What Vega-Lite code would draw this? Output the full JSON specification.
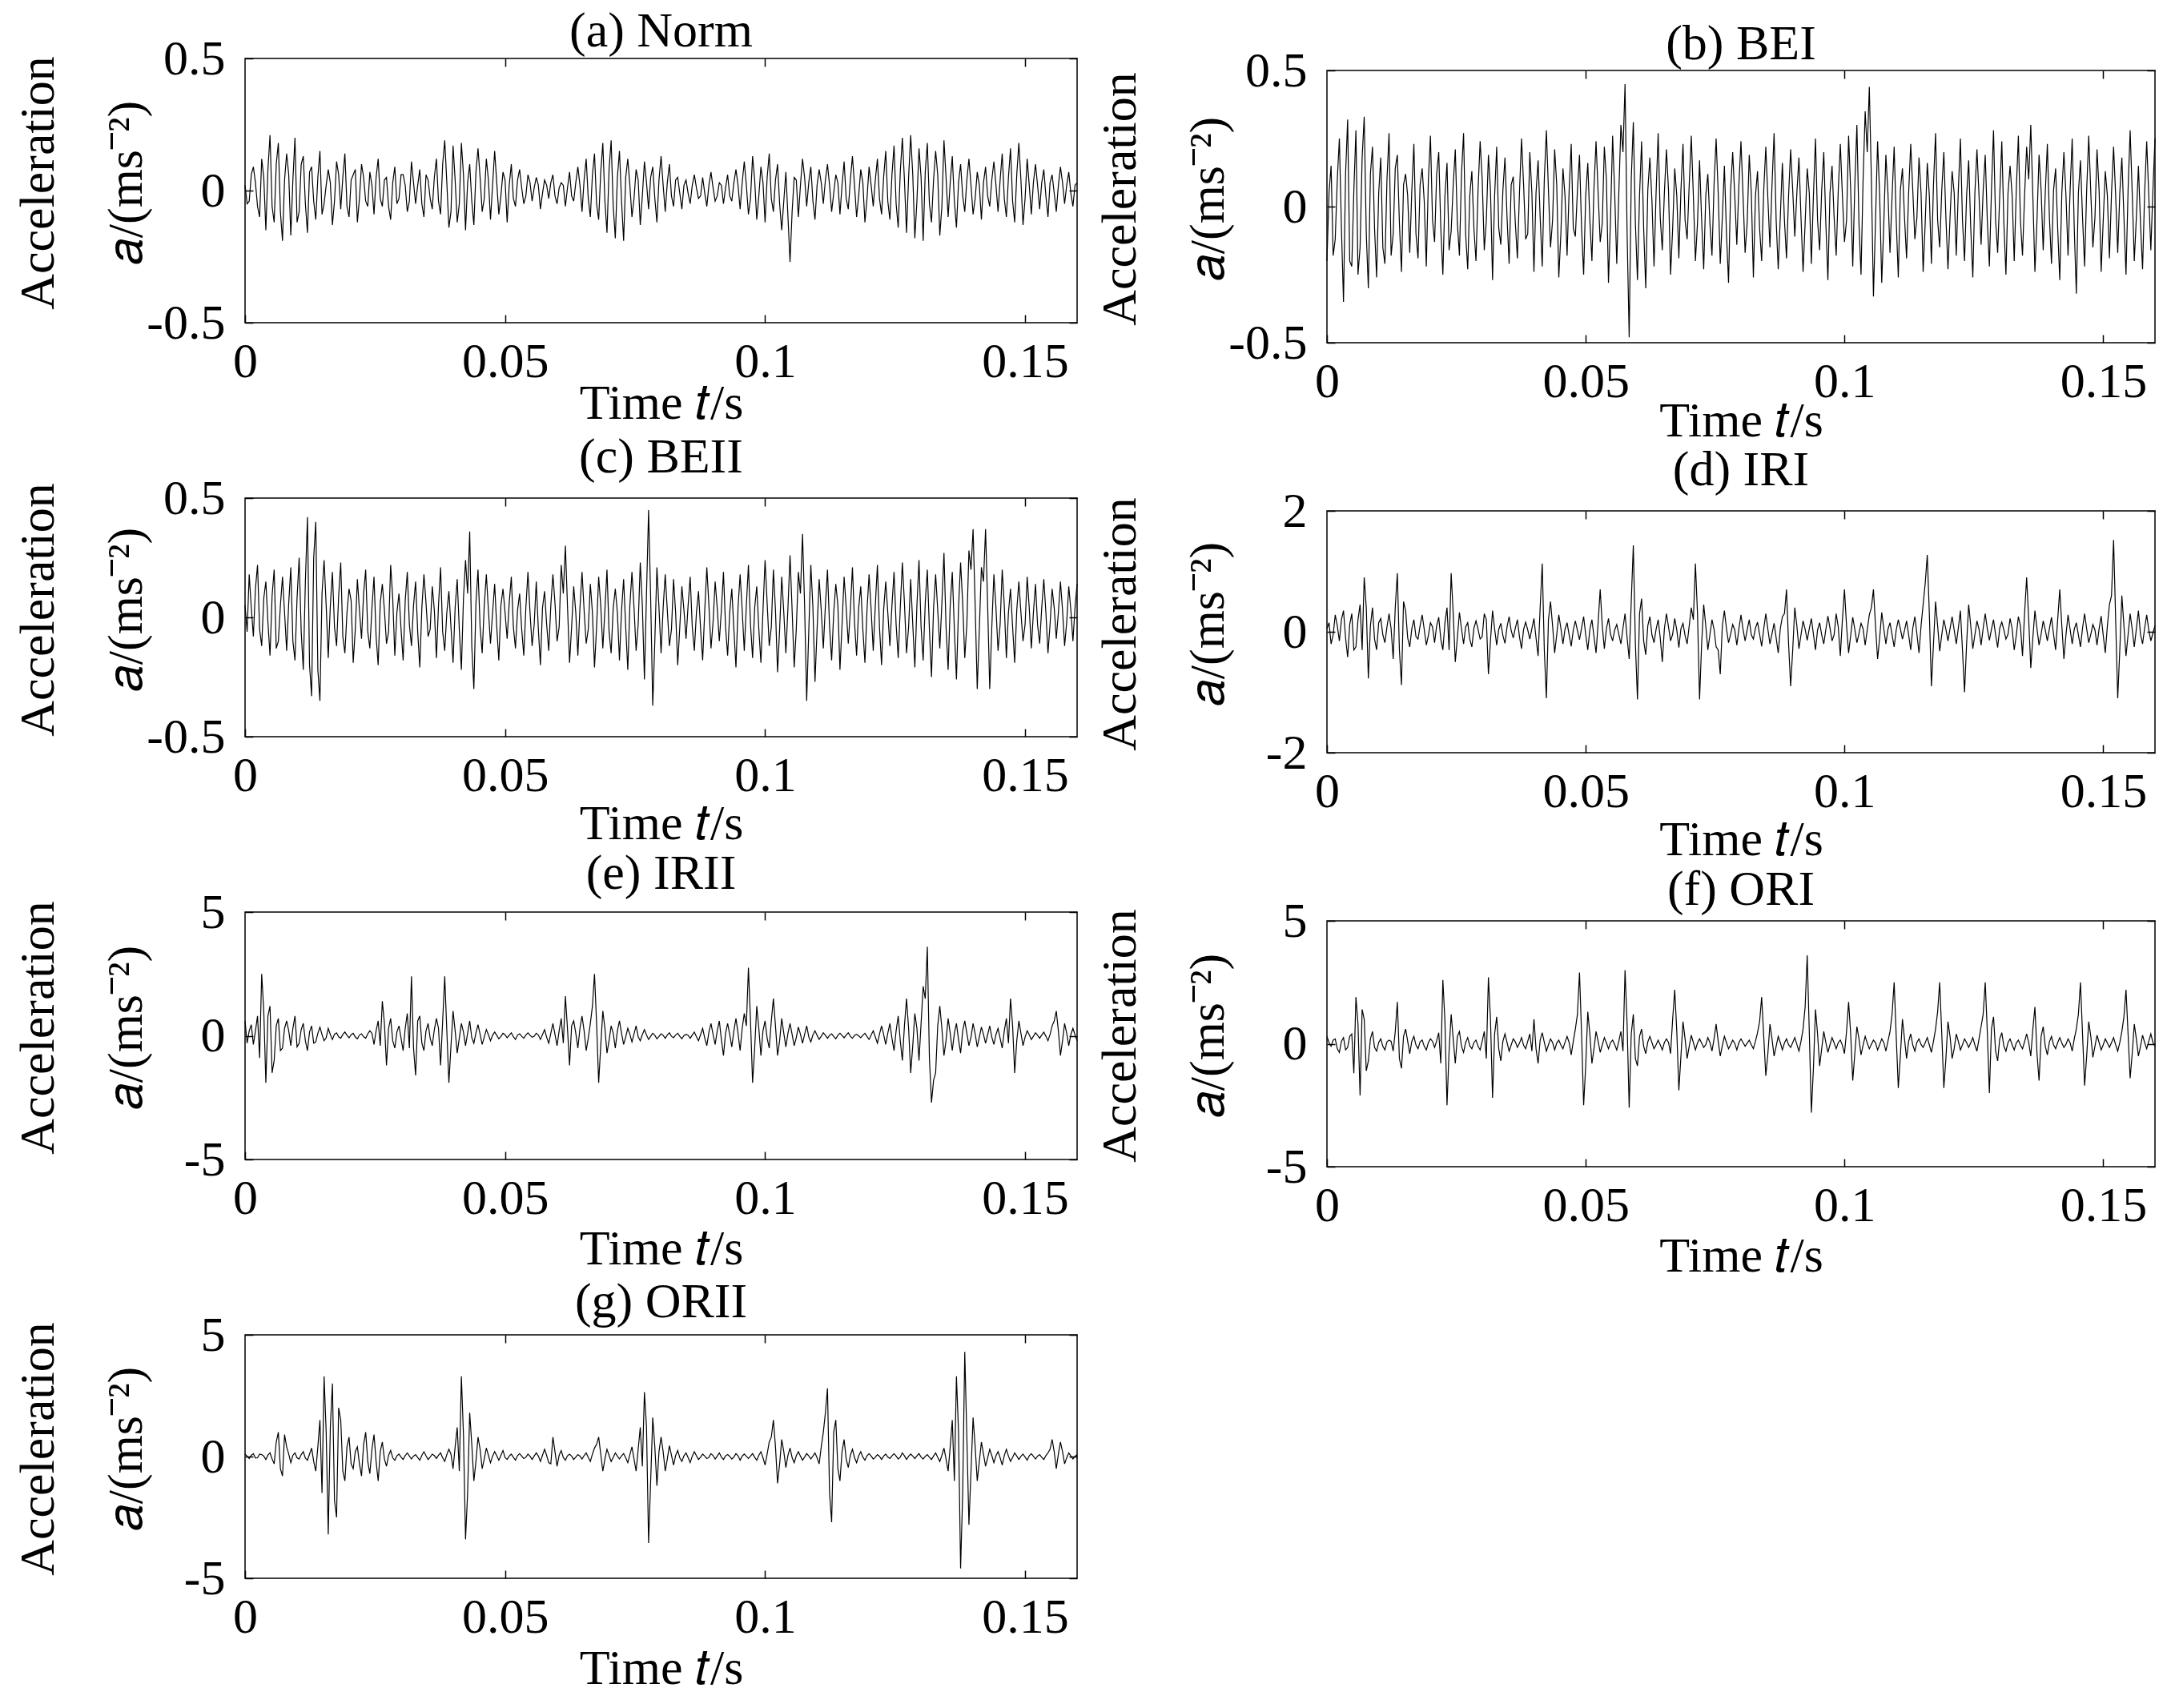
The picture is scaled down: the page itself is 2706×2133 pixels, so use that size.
{
  "$schema": "https://vega.github.io/schema/vega-lite/v6.json",
  "background": "white",
  "padding": {"left": 15, "top": 7, "right": 0, "bottom": 0},
  "data": {
    "values": [
      {"t":0,"a":0.02,"b":-0.2,"c":0.05,"d":0.05,"e":0.6,"f":0.3,"g":0.1},
      {"t":0.0008,"a":-0.04,"b":0.15,"c":0.18,"d":-0.2,"e":0.2,"f":-0.1,"g":-0.08},
      {"t":0.0016,"a":0.09,"b":-0.12,"c":-0.08,"d":0.28,"e":-0.35,"f":0.2,"g":0.12},
      {"t":0.0024,"a":-0.06,"b":0.25,"c":0.22,"d":-0.15,"e":0.8,"f":-0.35,"g":-0.05},
      {"t":0.0032,"a":0.12,"b":-0.35,"c":-0.12,"d":0.35,"e":2.5,"f":0.25,"g":0.08},
      {"t":0.004,"a":-0.15,"b":0.32,"c":0.15,"d":-0.42,"e":-1.9,"f":-0.15,"g":-0.12},
      {"t":0.0048,"a":0.21,"b":-0.22,"c":-0.16,"d":0.3,"e":1.2,"f":0.4,"g":0.15},
      {"t":0.0056,"a":-0.12,"b":0.28,"c":0.2,"d":-0.25,"e":-1,"f":1.9,"g":-0.3},
      {"t":0.0064,"a":0.18,"b":-0.15,"c":-0.1,"d":0.45,"e":0.7,"f":-2.1,"g":1},
      {"t":0.0072,"a":-0.19,"b":0.33,"c":0.17,"d":0.9,"e":-0.5,"f":1,"g":-0.8},
      {"t":0.008,"a":0.14,"b":-0.3,"c":-0.14,"d":-0.77,"e":0.6,"f":-0.7,"g":0.4},
      {"t":0.0088,"a":-0.17,"b":0.22,"c":0.21,"d":0.4,"e":-0.4,"f":0.5,"g":-0.25},
      {"t":0.0096,"a":0.2,"b":-0.26,"c":-0.18,"d":-0.3,"e":0.8,"f":-0.3,"g":0.15},
      {"t":0.0104,"a":-0.08,"b":0.18,"c":0.25,"d":0.22,"e":-0.3,"f":0.2,"g":-0.1},
      {"t":0.0112,"a":0.13,"b":-0.21,"c":-0.22,"d":-0.18,"e":0.5,"f":-0.25,"g":0.2},
      {"t":0.012,"a":-0.16,"b":0.27,"c":0.42,"d":0.3,"e":-0.6,"f":0.15,"g":-0.15},
      {"t":0.0128,"a":0.09,"b":-0.1,"c":-0.33,"d":-0.45,"e":0.4,"f":-0.3,"g":0.35},
      {"t":0.0136,"a":-0.11,"b":0.19,"c":0.4,"d":0.97,"e":-0.25,"f":1.7,"g":-0.6},
      {"t":0.0144,"a":0.15,"b":-0.24,"c":-0.35,"d":-0.88,"e":0.35,"f":-1,"g":1.5},
      {"t":0.0152,"a":-0.05,"b":0.12,"c":0.24,"d":0.35,"e":-0.2,"f":0.6,"g":3.3},
      {"t":0.016,"a":0.08,"b":-0.17,"c":-0.17,"d":-0.25,"e":0.3,"f":-0.4,"g":-3.2},
      {"t":0.0168,"a":-0.13,"b":0.23,"c":0.19,"d":0.2,"e":-0.15,"f":0.3,"g":3},
      {"t":0.0176,"a":0.11,"b":-0.19,"c":-0.12,"d":-0.12,"e":0.12,"f":-0.2,"g":-2.5},
      {"t":0.0184,"a":-0.07,"b":0.14,"c":0.23,"d":0.28,"e":-0.1,"f":0.15,"g":1.5},
      {"t":0.0192,"a":0.14,"b":-0.22,"c":-0.15,"d":-0.22,"e":0.15,"f":-0.25,"g":-1},
      {"t":0.02,"a":-0.1,"b":0.26,"c":0.12,"d":0.15,"e":-0.08,"f":0.2,"g":0.8},
      {"t":0.0208,"a":0.06,"b":-0.13,"c":-0.19,"d":-0.18,"e":0.1,"f":-0.15,"g":-0.5},
      {"t":0.0216,"a":-0.12,"b":0.2,"c":0.16,"d":0.24,"e":-0.12,"f":0.45,"g":0.4},
      {"t":0.0224,"a":0.1,"b":-0.25,"c":-0.09,"d":-0.3,"e":0.08,"f":2.6,"g":-0.8},
      {"t":0.0232,"a":-0.04,"b":0.16,"c":0.2,"d":0.4,"e":-0.1,"f":-2.5,"g":1},
      {"t":0.024,"a":0.07,"b":-0.09,"c":-0.13,"d":0.97,"e":0.2,"f":1.2,"g":-0.7},
      {"t":0.0248,"a":-0.09,"b":0.21,"c":0.17,"d":-0.5,"e":-0.35,"f":-0.8,"g":0.9},
      {"t":0.0256,"a":0.12,"b":-0.18,"c":-0.2,"d":0.32,"e":0.6,"f":0.5,"g":-1},
      {"t":0.0264,"a":-0.06,"b":0.27,"c":0.14,"d":-0.2,"e":1.4,"f":-0.35,"g":0.6},
      {"t":0.0272,"a":0.05,"b":-0.23,"c":-0.11,"d":0.15,"e":-1.2,"f":0.25,"g":-0.4},
      {"t":0.028,"a":-0.11,"b":0.13,"c":0.22,"d":-0.25,"e":0.7,"f":-0.2,"g":0.25},
      {"t":0.0288,"a":0.09,"b":-0.2,"c":-0.16,"d":0.18,"e":-0.5,"f":0.15,"g":-0.15},
      {"t":0.0296,"a":-0.03,"b":0.24,"c":0.1,"d":-0.12,"e":0.4,"f":-0.25,"g":0.1},
      {"t":0.0304,"a":0.06,"b":-0.16,"c":-0.18,"d":0.3,"e":-0.6,"f":0.5,"g":-0.12},
      {"t":0.0312,"a":-0.08,"b":0.19,"c":0.19,"d":-0.7,"e":0.9,"f":2.7,"g":0.15},
      {"t":0.032,"a":0.11,"b":-0.27,"c":-0.12,"d":0.35,"e":2.4,"f":-2.2,"g":-0.1},
      {"t":0.0328,"a":-0.05,"b":0.22,"c":0.15,"d":-0.22,"e":-1.6,"f":1.1,"g":0.08},
      {"t":0.0336,"a":0.08,"b":-0.14,"c":-0.21,"d":0.14,"e":0.8,"f":-0.7,"g":-0.15},
      {"t":0.0344,"a":-0.1,"b":0.18,"c":0.18,"d":-0.19,"e":-0.6,"f":0.4,"g":0.2},
      {"t":0.0352,"a":0.04,"b":-0.21,"c":-0.08,"d":0.25,"e":0.5,"f":-0.3,"g":-0.12},
      {"t":0.036,"a":-0.07,"b":0.11,"c":0.13,"d":-0.1,"e":-0.4,"f":0.2,"g":0.1},
      {"t":0.0368,"a":0.12,"b":-0.19,"c":-0.17,"d":0.2,"e":0.7,"f":-0.15,"g":-0.08},
      {"t":0.0376,"a":-0.09,"b":0.25,"c":0.21,"d":-0.28,"e":-1.2,"f":0.25,"g":0.15},
      {"t":0.0384,"a":0.19,"b":-0.12,"c":-0.14,"d":0.16,"e":2.4,"f":-0.2,"g":-0.2},
      {"t":0.0392,"a":-0.14,"b":0.2,"c":0.11,"d":-0.12,"e":-1.9,"f":0.4,"g":0.3},
      {"t":0.04,"a":0.17,"b":-0.24,"c":-0.19,"d":0.22,"e":1,"f":1,"g":-0.5},
      {"t":0.0408,"a":-0.12,"b":0.17,"c":0.16,"d":-0.4,"e":-0.7,"f":-0.8,"g":1.2},
      {"t":0.0416,"a":0.18,"b":-0.22,"c":-0.22,"d":1.13,"e":0.5,"f":0.45,"g":3.3},
      {"t":0.0424,"a":-0.15,"b":0.28,"c":0.24,"d":-1.1,"e":-0.4,"f":-0.3,"g":-3.4},
      {"t":0.0432,"a":0.1,"b":-0.15,"c":0.36,"d":0.5,"e":0.6,"f":0.2,"g":1.8},
      {"t":0.044,"a":-0.13,"b":0.21,"c":-0.3,"d":-0.35,"e":-0.3,"f":-0.25,"g":-1},
      {"t":0.0448,"a":0.16,"b":-0.26,"c":0.2,"d":0.28,"e":0.45,"f":0.15,"g":0.8},
      {"t":0.0456,"a":-0.08,"b":0.14,"c":-0.15,"d":-0.2,"e":-0.35,"f":-0.2,"g":-0.5},
      {"t":0.0464,"a":0.12,"b":-0.18,"c":0.18,"d":0.15,"e":0.25,"f":0.3,"g":0.35},
      {"t":0.0472,"a":-0.11,"b":0.23,"c":-0.11,"d":-0.24,"e":-0.2,"f":-0.45,"g":-0.25},
      {"t":0.048,"a":0.15,"b":-0.11,"c":0.14,"d":0.18,"e":0.15,"f":0.6,"g":0.2},
      {"t":0.0488,"a":-0.09,"b":0.19,"c":-0.18,"d":-0.13,"e":-0.12,"f":2.9,"g":-0.15},
      {"t":0.0496,"a":0.07,"b":-0.25,"c":0.12,"d":0.25,"e":0.1,"f":-2.5,"g":0.25},
      {"t":0.0504,"a":-0.12,"b":0.16,"c":-0.09,"d":-0.3,"e":-0.08,"f":1.3,"g":-0.12},
      {"t":0.0512,"a":0.1,"b":-0.2,"c":0.17,"d":0.2,"e":0.12,"f":-0.8,"g":0.1},
      {"t":0.052,"a":-0.06,"b":0.24,"c":-0.13,"d":-0.35,"e":-0.15,"f":0.5,"g":-0.15},
      {"t":0.0528,"a":0.08,"b":-0.13,"c":0.1,"d":0.7,"e":0.08,"f":-0.35,"g":0.12},
      {"t":0.0536,"a":-0.05,"b":0.22,"c":-0.16,"d":-0.28,"e":-0.1,"f":0.25,"g":-0.08},
      {"t":0.0544,"a":0.06,"b":-0.28,"c":0.19,"d":0.22,"e":0.12,"f":-0.2,"g":0.1},
      {"t":0.0552,"a":-0.04,"b":0.26,"c":-0.12,"d":-0.15,"e":-0.06,"f":0.15,"g":-0.12},
      {"t":0.056,"a":0.05,"b":-0.21,"c":0.15,"d":0.12,"e":0.1,"f":-0.25,"g":0.15},
      {"t":0.0568,"a":-0.07,"b":0.3,"c":-0.2,"d":-0.2,"e":-0.15,"f":0.5,"g":-0.2},
      {"t":0.0576,"a":0.04,"b":0.45,"c":0.11,"d":0.3,"e":0.25,"f":3,"g":0.3},
      {"t":0.0584,"a":-0.03,"b":-0.48,"c":-0.14,"d":-0.45,"e":-0.3,"f":-2.6,"g":-0.25},
      {"t":0.0592,"a":0.06,"b":0.31,"c":0.18,"d":1.43,"e":0.5,"f":1.2,"g":0.8},
      {"t":0.06,"a":-0.05,"b":-0.27,"c":-0.1,"d":-1.12,"e":-0.4,"f":-0.9,"g":-0.4},
      {"t":0.0608,"a":0.03,"b":0.24,"c":0.22,"d":0.55,"e":0.7,"f":0.6,"g":0.25},
      {"t":0.0616,"a":-0.06,"b":-0.3,"c":0.3,"d":-0.38,"e":1.6,"f":-0.4,"g":-0.15},
      {"t":0.0624,"a":0.07,"b":0.18,"c":-0.19,"d":0.25,"e":-1.2,"f":0.3,"g":0.1},
      {"t":0.0632,"a":-0.04,"b":-0.22,"c":0.13,"d":-0.18,"e":0.6,"f":-0.2,"g":-0.12},
      {"t":0.064,"a":0.09,"b":0.27,"c":-0.16,"d":0.2,"e":-0.5,"f":0.15,"g":0.08},
      {"t":0.0648,"a":-0.08,"b":-0.16,"c":0.19,"d":-0.5,"e":0.8,"f":-0.25,"g":-0.1},
      {"t":0.0656,"a":0.12,"b":0.21,"c":-0.11,"d":0.3,"e":-0.6,"f":0.2,"g":0.15},
      {"t":0.0664,"a":-0.1,"b":-0.25,"c":0.14,"d":-0.15,"e":0.5,"f":-0.4,"g":-0.2},
      {"t":0.0672,"a":0.14,"b":0.14,"c":-0.21,"d":0.22,"e":2.5,"f":2.2,"g":0.35},
      {"t":0.068,"a":-0.11,"b":-0.19,"c":0.17,"d":-0.26,"e":-1.9,"f":-1.9,"g":0.8},
      {"t":0.0688,"a":0.18,"b":0.23,"c":-0.13,"d":0.14,"e":1,"f":0.9,"g":-0.6},
      {"t":0.0696,"a":-0.16,"b":-0.12,"c":0.2,"d":-0.2,"e":-0.7,"f":-0.6,"g":0.3},
      {"t":0.0704,"a":0.19,"b":0.26,"c":-0.15,"d":0.4,"e":0.4,"f":0.35,"g":-0.2},
      {"t":0.0712,"a":-0.18,"b":-0.2,"c":0.12,"d":1.13,"e":-0.5,"f":-0.25,"g":0.15},
      {"t":0.072,"a":0.15,"b":0.17,"c":-0.18,"d":-1.12,"e":0.6,"f":0.2,"g":-0.1},
      {"t":0.0728,"a":-0.19,"b":-0.23,"c":0.16,"d":0.45,"e":-0.35,"f":-0.15,"g":0.12},
      {"t":0.0736,"a":0.12,"b":0.12,"c":-0.22,"d":-0.3,"e":0.3,"f":0.25,"g":-0.25},
      {"t":0.0744,"a":-0.1,"b":-0.18,"c":0.19,"d":0.2,"e":-0.25,"f":-0.3,"g":0.4},
      {"t":0.0752,"a":0.08,"b":0.25,"c":-0.14,"d":-0.25,"e":0.4,"f":0.8,"g":-0.6},
      {"t":0.076,"a":-0.13,"b":-0.21,"c":0.23,"d":-0.7,"e":-0.2,"f":-0.5,"g":1.2},
      {"t":0.0768,"a":0.11,"b":0.15,"c":-0.26,"d":0.35,"e":0.25,"f":0.3,"g":2.65},
      {"t":0.0776,"a":-0.07,"b":-0.28,"c":0.45,"d":-0.18,"e":-0.15,"f":-0.2,"g":-3.55},
      {"t":0.0784,"a":0.09,"b":0.2,"c":-0.37,"d":0.12,"e":0.1,"f":0.15,"g":1.6},
      {"t":0.0792,"a":-0.12,"b":-0.14,"c":0.21,"d":-0.22,"e":-0.12,"f":-0.25,"g":-1.2},
      {"t":0.08,"a":0.13,"b":0.24,"c":-0.15,"d":0.28,"e":0.08,"f":0.2,"g":0.8},
      {"t":0.0808,"a":-0.08,"b":-0.17,"c":0.18,"d":-0.15,"e":-0.1,"f":-0.1,"g":-0.6},
      {"t":0.0816,"a":0.1,"b":0.19,"c":-0.12,"d":0.2,"e":0.12,"f":0.15,"g":0.45},
      {"t":0.0824,"a":-0.06,"b":-0.26,"c":0.16,"d":-0.12,"e":-0.08,"f":-0.2,"g":-0.35},
      {"t":0.0832,"a":0.05,"b":0.13,"c":-0.2,"d":0.16,"e":0.1,"f":0.45,"g":0.25},
      {"t":0.084,"a":-0.07,"b":-0.2,"c":0.13,"d":-0.24,"e":-0.12,"f":1.9,"g":-0.2},
      {"t":0.0848,"a":0.04,"b":0.22,"c":-0.09,"d":0.3,"e":0.06,"f":-1.3,"g":0.15},
      {"t":0.0856,"a":-0.05,"b":-0.15,"c":0.17,"d":-0.2,"e":-0.1,"f":0.8,"g":-0.25},
      {"t":0.0864,"a":0.06,"b":0.27,"c":-0.14,"d":0.14,"e":0.15,"f":-0.5,"g":0.2},
      {"t":0.0872,"a":-0.03,"b":-0.23,"c":0.11,"d":-0.35,"e":-0.2,"f":0.3,"g":-0.12},
      {"t":0.088,"a":0.05,"b":0.16,"c":-0.18,"d":0.25,"e":0.3,"f":-0.25,"g":0.1},
      {"t":0.0888,"a":-0.06,"b":-0.19,"c":0.21,"d":0.7,"e":-0.4,"f":0.2,"g":-0.08},
      {"t":0.0896,"a":0.07,"b":0.21,"c":-0.13,"d":-0.9,"e":0.5,"f":-0.15,"g":0.12},
      {"t":0.0904,"a":-0.04,"b":-0.11,"c":0.15,"d":0.4,"e":-0.35,"f":0.25,"g":-0.1},
      {"t":0.0912,"a":0.03,"b":0.18,"c":-0.1,"d":-0.28,"e":0.6,"f":-0.3,"g":0.15},
      {"t":0.092,"a":-0.05,"b":-0.24,"c":0.19,"d":0.18,"e":-0.8,"f":0.6,"g":-0.12},
      {"t":0.0928,"a":0.06,"b":0.14,"c":-0.16,"d":-0.14,"e":0.5,"f":3.6,"g":0.08},
      {"t":0.0936,"a":-0.04,"b":-0.21,"c":0.12,"d":0.22,"e":-0.45,"f":-2.8,"g":-0.1},
      {"t":0.0944,"a":0.08,"b":0.25,"c":-0.21,"d":-0.3,"e":0.7,"f":1.4,"g":0.12},
      {"t":0.0952,"a":-0.07,"b":-0.16,"c":0.18,"d":0.15,"e":-0.6,"f":-0.9,"g":-0.15},
      {"t":0.096,"a":0.11,"b":0.2,"c":-0.14,"d":-0.2,"e":0.9,"f":0.5,"g":0.1},
      {"t":0.0968,"a":-0.09,"b":-0.27,"c":0.22,"d":0.26,"e":2.75,"f":-0.35,"g":-0.08},
      {"t":0.0976,"a":0.13,"b":0.15,"c":-0.17,"d":-0.15,"e":-1.9,"f":0.25,"g":0.12},
      {"t":0.0984,"a":-0.11,"b":-0.18,"c":0.13,"d":0.3,"e":1.2,"f":-0.2,"g":-0.15},
      {"t":0.0992,"a":0.09,"b":0.23,"c":-0.19,"d":-0.4,"e":-0.8,"f":0.15,"g":0.2},
      {"t":0.1,"a":-0.12,"b":-0.13,"c":0.24,"d":0.7,"e":0.6,"f":-0.4,"g":-0.35},
      {"t":0.1008,"a":0.14,"b":0.26,"c":-0.12,"d":-0.35,"e":-0.5,"f":1.7,"g":0.6},
      {"t":0.1016,"a":-0.08,"b":-0.22,"c":0.2,"d":0.24,"e":1.5,"f":-1.5,"g":1.5},
      {"t":0.1024,"a":0.1,"b":0.3,"c":-0.23,"d":-0.18,"e":-0.8,"f":0.7,"g":-1.1},
      {"t":0.1032,"a":-0.15,"b":-0.25,"c":0.17,"d":0.14,"e":0.7,"f":-0.45,"g":0.7},
      {"t":0.104,"a":0.07,"b":0.35,"c":-0.15,"d":-0.22,"e":-0.45,"f":0.3,"g":-0.45},
      {"t":0.1048,"a":-0.27,"b":0.44,"c":0.26,"d":0.28,"e":0.5,"f":-0.2,"g":0.35},
      {"t":0.1056,"a":0.05,"b":-0.33,"c":-0.21,"d":0.7,"e":-0.4,"f":0.15,"g":-0.25},
      {"t":0.1064,"a":-0.1,"b":0.24,"c":0.19,"d":-0.45,"e":0.35,"f":-0.25,"g":0.2},
      {"t":0.1072,"a":0.12,"b":-0.28,"c":0.35,"d":0.32,"e":-0.3,"f":0.2,"g":-0.15},
      {"t":0.108,"a":-0.06,"b":0.19,"c":-0.35,"d":-0.2,"e":0.4,"f":-0.3,"g":0.12},
      {"t":0.1088,"a":0.09,"b":-0.17,"c":0.22,"d":0.15,"e":-0.25,"f":0.5,"g":-0.1},
      {"t":0.1096,"a":-0.11,"b":0.22,"c":-0.27,"d":-0.25,"e":0.2,"f":2.5,"g":0.15},
      {"t":0.1104,"a":0.08,"b":-0.26,"c":0.16,"d":0.2,"e":-0.15,"f":-1.8,"g":-0.3},
      {"t":0.1112,"a":-0.05,"b":0.14,"c":-0.13,"d":-0.12,"e":0.12,"f":1,"g":1},
      {"t":0.112,"a":0.1,"b":-0.19,"c":0.2,"d":0.18,"e":-0.1,"f":-0.6,"g":2.8},
      {"t":0.1128,"a":-0.08,"b":0.23,"c":-0.18,"d":-0.3,"e":0.08,"f":0.4,"g":-2.7},
      {"t":0.1136,"a":0.06,"b":-0.12,"c":0.14,"d":0.25,"e":-0.12,"f":-0.3,"g":1.5},
      {"t":0.1144,"a":-0.09,"b":0.18,"c":-0.22,"d":-0.35,"e":0.1,"f":0.2,"g":-1},
      {"t":0.1152,"a":0.11,"b":-0.24,"c":0.17,"d":0.45,"e":-0.08,"f":-0.15,"g":0.7},
      {"t":0.116,"a":-0.07,"b":0.16,"c":-0.11,"d":1.27,"e":0.12,"f":0.25,"g":-0.45},
      {"t":0.1168,"a":0.13,"b":-0.21,"c":0.21,"d":-0.9,"e":-0.1,"f":-0.35,"g":0.3},
      {"t":0.1176,"a":-0.1,"b":0.27,"c":-0.16,"d":0.5,"e":0.06,"f":0.6,"g":-0.25},
      {"t":0.1184,"a":0.08,"b":-0.15,"c":0.13,"d":-0.32,"e":-0.08,"f":2.5,"g":0.2},
      {"t":0.1192,"a":-0.12,"b":0.2,"c":-0.19,"d":0.2,"e":0.1,"f":-1.8,"g":-0.15},
      {"t":0.12,"a":0.09,"b":-0.23,"c":0.18,"d":-0.15,"e":-0.15,"f":0.9,"g":0.12},
      {"t":0.1208,"a":-0.06,"b":0.13,"c":-0.14,"d":0.25,"e":0.2,"f":-0.6,"g":-0.1},
      {"t":0.1216,"a":0.12,"b":-0.18,"c":0.22,"d":-0.2,"e":-0.3,"f":0.4,"g":0.08},
      {"t":0.1224,"a":-0.09,"b":0.25,"c":-0.2,"d":0.35,"e":0.4,"f":-0.25,"g":-0.12},
      {"t":0.1232,"a":0.15,"b":-0.2,"c":0.15,"d":-1,"e":-0.35,"f":0.2,"g":0.1},
      {"t":0.124,"a":-0.11,"b":0.17,"c":-0.12,"d":0.45,"e":0.5,"f":-0.15,"g":-0.08},
      {"t":0.1248,"a":0.17,"b":-0.26,"c":0.19,"d":-0.28,"e":-0.6,"f":0.25,"g":0.12},
      {"t":0.1256,"a":-0.14,"b":0.21,"c":-0.17,"d":0.18,"e":0.8,"f":-0.3,"g":-0.1},
      {"t":0.1264,"a":0.2,"b":-0.14,"c":0.23,"d":-0.22,"e":-1,"f":0.7,"g":0.15},
      {"t":0.1272,"a":-0.16,"b":0.19,"c":-0.15,"d":0.3,"e":1.5,"f":2.5,"g":-0.12},
      {"t":0.128,"a":0.21,"b":-0.22,"c":0.16,"d":-0.14,"e":-1.5,"f":-2,"g":0.1},
      {"t":0.1288,"a":-0.18,"b":0.28,"c":-0.21,"d":0.2,"e":0.9,"f":1.1,"g":-0.08},
      {"t":0.1296,"a":0.16,"b":-0.17,"c":0.24,"d":-0.26,"e":-1,"f":-0.7,"g":0.12},
      {"t":0.1304,"a":-0.19,"b":0.24,"c":-0.18,"d":0.16,"e":2,"f":0.45,"g":-0.1},
      {"t":0.1312,"a":0.18,"b":-0.25,"c":0.2,"d":-0.12,"e":3.6,"f":-0.3,"g":0.08},
      {"t":0.132,"a":-0.12,"b":0.15,"c":-0.25,"d":0.22,"e":-2.7,"f":0.2,"g":-0.12},
      {"t":0.1328,"a":0.15,"b":-0.2,"c":0.18,"d":-0.3,"e":-1.5,"f":-0.25,"g":0.15},
      {"t":0.1336,"a":-0.17,"b":0.26,"c":-0.13,"d":0.25,"e":1.2,"f":0.15,"g":-0.2},
      {"t":0.1344,"a":0.19,"b":-0.18,"c":0.27,"d":-0.4,"e":-0.8,"f":-0.2,"g":0.35},
      {"t":0.1352,"a":-0.1,"b":0.22,"c":-0.22,"d":0.9,"e":0.7,"f":0.4,"g":-0.6},
      {"t":0.136,"a":0.13,"b":0.3,"c":0.19,"d":-0.6,"e":-0.6,"f":-0.5,"g":1.5},
      {"t":0.1368,"a":-0.14,"b":-0.24,"c":-0.26,"d":0.35,"e":0.5,"f":1.5,"g":3.3},
      {"t":0.1376,"a":0.1,"b":0.19,"c":0.23,"d":-0.22,"e":-0.7,"f":-1.5,"g":-4.6},
      {"t":0.1384,"a":-0.08,"b":-0.16,"c":-0.17,"d":0.18,"e":0.6,"f":0.7,"g":4.3},
      {"t":0.1392,"a":0.12,"b":0.23,"c":0.28,"d":-0.15,"e":-0.4,"f":-0.45,"g":-2.8},
      {"t":0.14,"a":-0.09,"b":-0.21,"c":0.37,"d":0.24,"e":0.5,"f":0.3,"g":1.6},
      {"t":0.1408,"a":0.07,"b":0.14,"c":-0.3,"d":-0.3,"e":-0.45,"f":-0.2,"g":-1},
      {"t":0.1416,"a":-0.11,"b":-0.27,"c":0.21,"d":0.7,"e":0.35,"f":0.25,"g":0.6},
      {"t":0.1424,"a":0.09,"b":0.2,"c":0.37,"d":-0.45,"e":-0.3,"f":-0.15,"g":-0.4},
      {"t":0.1432,"a":-0.06,"b":-0.18,"c":-0.3,"d":0.28,"e":0.4,"f":0.2,"g":0.3},
      {"t":0.144,"a":0.11,"b":0.25,"c":0.18,"d":-0.2,"e":-0.35,"f":-0.3,"g":-0.25},
      {"t":0.1448,"a":-0.08,"b":-0.32,"c":-0.14,"d":0.15,"e":0.3,"f":0.6,"g":0.2},
      {"t":0.1456,"a":0.14,"b":0.17,"c":0.2,"d":-0.25,"e":-0.5,"f":2.5,"g":-0.35},
      {"t":0.1464,"a":-0.1,"b":-0.22,"c":-0.17,"d":0.3,"e":0.7,"f":-1.7,"g":0.3},
      {"t":0.1472,"a":0.16,"b":0.26,"c":0.12,"d":-0.18,"e":1.5,"f":0.9,"g":-0.2},
      {"t":0.148,"a":-0.12,"b":-0.15,"c":-0.19,"d":0.12,"e":-1.5,"f":-0.55,"g":0.15},
      {"t":0.1488,"a":0.18,"b":0.21,"c":0.15,"d":-0.22,"e":0.6,"f":0.35,"g":-0.12},
      {"t":0.1496,"a":-0.13,"b":-0.24,"c":-0.1,"d":0.26,"e":-0.4,"f":-0.25,"g":0.1},
      {"t":0.1504,"a":0.12,"b":0.13,"c":0.17,"d":-0.35,"e":0.2,"f":0.2,"g":-0.15},
      {"t":0.1512,"a":-0.09,"b":-0.19,"c":-0.13,"d":0.45,"e":-0.15,"f":-0.15,"g":0.12},
      {"t":0.152,"a":0.1,"b":0.22,"c":0.14,"d":1.52,"e":0.12,"f":0.25,"g":-0.1},
      {"t":0.1528,"a":-0.07,"b":-0.17,"c":-0.11,"d":-1.1,"e":-0.1,"f":-0.3,"g":0.08},
      {"t":0.1536,"a":0.08,"b":0.18,"c":0.16,"d":0.6,"e":0.15,"f":0.5,"g":-0.12},
      {"t":0.1544,"a":-0.1,"b":-0.25,"c":-0.15,"d":-0.4,"e":-0.2,"f":2.2,"g":0.15},
      {"t":0.1552,"a":0.06,"b":0.28,"c":0.12,"d":0.3,"e":0.4,"f":-1.4,"g":0.7},
      {"t":0.156,"a":-0.08,"b":-0.2,"c":-0.09,"d":-0.25,"e":1,"f":0.8,"g":-0.5},
      {"t":0.1568,"a":0.09,"b":0.15,"c":0.15,"d":0.35,"e":-0.8,"f":-0.5,"g":0.6},
      {"t":0.1576,"a":-0.05,"b":-0.23,"c":-0.12,"d":-0.2,"e":0.5,"f":0.35,"g":-0.3},
      {"t":0.1584,"a":0.07,"b":0.24,"c":0.13,"d":0.28,"e":-0.4,"f":-0.2,"g":0.15},
      {"t":0.1592,"a":-0.06,"b":-0.16,"c":-0.1,"d":-0.15,"e":0.3,"f":0.4,"g":-0.1},
      {"t":0.16,"a":0.03,"b":0.25,"c":0.14,"d":0.1,"e":-0.2,"f":-0.1,"g":0.08},
      {"t":0.0004,"a":-0.05,"b":0.05,"c":-0.06,"d":0.15,"e":-0.3,"f":0.05,"g":0.02},
      {"t":0.0012,"a":0.06,"b":-0.18,"c":0.04,"d":-0.05,"e":0.45,"f":0.15,"g":0.05},
      {"t":0.002,"a":0.03,"b":0.1,"c":0.12,"d":0.1,"e":0.2,"f":-0.2,"g":-0.06},
      {"t":0.0028,"a":-0.1,"b":-0.08,"c":-0.05,"d":0.2,"e":-0.9,"f":0.1,"g":0.1},
      {"t":0.0036,"a":0.05,"b":0.12,"c":0.08,"d":-0.1,"e":1,"f":-0.25,"g":0.02},
      {"t":0.0044,"a":0.08,"b":-0.2,"c":-0.02,"d":0.12,"e":0.8,"f":0.3,"g":0.06},
      {"t":0.0052,"a":-0.06,"b":0.06,"c":0.09,"d":-0.3,"e":-1.5,"f":-1.2,"g":-0.1},
      {"t":0.006,"a":0.1,"b":-0.25,"c":-0.13,"d":0.2,"e":0.4,"f":0.8,"g":0.6},
      {"t":0.0068,"a":-0.08,"b":0.18,"c":0.05,"d":-0.3,"e":-0.6,"f":1.4,"g":-0.5},
      {"t":0.0076,"a":0.04,"b":-0.1,"c":0.02,"d":0.4,"e":0.3,"f":-1.1,"g":0.9},
      {"t":0.0084,"a":0.06,"b":0.12,"c":0.06,"d":0.1,"e":0.2,"f":0.2,"g":0.1},
      {"t":0.0092,"a":0.04,"b":-0.08,"c":-0.1,"d":-0.12,"e":0.3,"f":-0.15,"g":0.05},
      {"t":0.01,"a":-0.12,"b":0.05,"c":0.08,"d":0.15,"e":-0.45,"f":0.05,"g":-0.05},
      {"t":0.0108,"a":0.1,"b":-0.15,"c":-0.06,"d":-0.05,"e":0.25,"f":-0.1,"g":0.08},
      {"t":0.0116,"a":-0.05,"b":0.1,"c":0.15,"d":0.08,"e":-0.2,"f":0.08,"g":-0.06},
      {"t":0.0124,"a":0.07,"b":-0.18,"c":-0.2,"d":0.05,"e":0.15,"f":0.1,"g":0.1},
      {"t":0.0132,"a":-0.04,"b":0.14,"c":0.25,"d":0.4,"e":-0.3,"f":0.5,"g":-0.2},
      {"t":0.014,"a":0.05,"b":-0.06,"c":-0.22,"d":-0.3,"e":0.1,"f":-0.6,"g":0.4},
      {"t":0.0148,"a":-0.09,"b":0.08,"c":0.1,"d":0.5,"e":0.05,"f":0.3,"g":-1.5},
      {"t":0.0156,"a":0.02,"b":0.04,"c":0.05,"d":-0.1,"e":-0.08,"f":0.1,"g":1},
      {"t":0.0164,"a":0.03,"b":0.06,"c":0.05,"d":0.05,"e":0.05,"f":0.1,"g":1.2},
      {"t":0.0172,"a":-0.04,"b":-0.1,"c":-0.04,"d":-0.08,"e":0.06,"f":-0.05,"g":-1.8},
      {"t":0.018,"a":0.06,"b":0.08,"c":0.09,"d":0.1,"e":-0.04,"f":0.08,"g":2},
      {"t":0.0188,"a":0.05,"b":0.02,"c":-0.08,"d":0.04,"e":0.05,"f":-0.1,"g":-0.6},
      {"t":0.0196,"a":-0.06,"b":0.1,"c":0.02,"d":-0.06,"e":0.02,"f":0.05,"g":0.4},
      {"t":0.0204,"a":0.04,"b":-0.05,"c":0.07,"d":0.08,"e":0.04,"f":0.1,"g":-0.3},
      {"t":0.0212,"a":0.08,"b":0.12,"c":-0.05,"d":0.1,"e":-0.05,"f":0.12,"g":0.2},
      {"t":0.022,"a":-0.03,"b":-0.08,"c":0.03,"d":-0.12,"e":0.03,"f":-0.8,"g":-0.3},
      {"t":0.0228,"a":0.05,"b":0.04,"c":0.1,"d":0.15,"e":-0.04,"f":0.9,"g":0.5},
      {"t":0.0236,"a":-0.06,"b":-0.16,"c":-0.06,"d":-0.3,"e":0.08,"f":-0.3,"g":-0.2},
      {"t":0.0244,"a":0.02,"b":0.08,"c":0.04,"d":0.3,"e":0.1,"f":0.2,"g":0.3},
      {"t":0.0252,"a":0.05,"b":-0.06,"c":-0.08,"d":-0.1,"e":0.2,"f":0.3,"g":-0.2},
      {"t":0.026,"a":-0.03,"b":0.12,"c":0.06,"d":0.05,"e":-0.4,"f":-0.1,"g":0.2},
      {"t":0.0268,"a":0.04,"b":-0.1,"c":0.03,"d":0.08,"e":0.5,"f":0.05,"g":-0.1},
      {"t":0.0276,"a":-0.06,"b":0.04,"c":-0.06,"d":-0.12,"e":0.3,"f":-0.08,"g":0.05},
      {"t":0.0284,"a":0.03,"b":-0.08,"c":0.08,"d":0.06,"e":-0.2,"f":0.05,"g":-0.05},
      {"t":0.0292,"a":-0.05,"b":0.06,"c":0.02,"d":0.04,"e":0.15,"f":-0.1,"g":0.03},
      {"t":0.03,"a":0.06,"b":0.1,"c":-0.05,"d":-0.08,"e":-0.1,"f":0.1,"g":-0.02},
      {"t":0.0308,"a":0.02,"b":-0.05,"c":0.07,"d":0.2,"e":0.3,"f":-0.6,"g":0.04},
      {"t":0.0316,"a":-0.04,"b":0.06,"c":-0.03,"d":-0.15,"e":-0.5,"f":1,"g":0.02},
      {"t":0.0324,"a":0.03,"b":0.04,"c":0.05,"d":0.05,"e":-0.5,"f":0.4,"g":0.02},
      {"t":0.0332,"a":0.02,"b":-0.08,"c":-0.06,"d":0.04,"e":0.6,"f":-0.2,"g":-0.04},
      {"t":0.034,"a":-0.05,"b":0.06,"c":0.04,"d":-0.06,"e":-0.3,"f":0.1,"g":0.05},
      {"t":0.0348,"a":0.06,"b":-0.04,"c":0.06,"d":0.08,"e":0.2,"f":0.05,"g":0.03},
      {"t":0.0356,"a":-0.03,"b":0.08,"c":-0.05,"d":0.02,"e":-0.1,"f":-0.05,"g":-0.02},
      {"t":0.0364,"a":0.05,"b":-0.06,"c":0.03,"d":0.06,"e":0.25,"f":0.08,"g":0.04},
      {"t":0.0372,"a":-0.04,"b":0.05,"c":0.05,"d":-0.08,"e":0.3,"f":0.02,"g":0.05},
      {"t":0.038,"a":0.1,"b":0.08,"c":-0.06,"d":0.04,"e":0.6,"f":-0.06,"g":-0.05},
      {"t":0.0388,"a":0.03,"b":-0.1,"c":0.02,"d":0.03,"e":0.2,"f":0.1,"g":0.08},
      {"t":0.0396,"a":-0.08,"b":0.05,"c":-0.04,"d":0.05,"e":-0.4,"f":-0.3,"g":0.1},
      {"t":0.0404,"a":0.04,"b":0.05,"c":0.04,"d":-0.1,"e":0.2,"f":-0.2,"g":0.4},
      {"t":0.0412,"a":-0.05,"b":-0.04,"c":-0.05,"d":0.4,"e":-0.1,"f":0.15,"g":-0.6},
      {"t":0.042,"a":0.06,"b":0.1,"c":0.08,"d":-0.3,"e":0.15,"f":0.06,"g":0.9},
      {"t":0.0428,"a":0.03,"b":0.06,"c":0.1,"d":0.2,"e":0.1,"f":-0.04,"g":-1.5},
      {"t":0.0436,"a":-0.04,"b":-0.05,"c":-0.12,"d":0.1,"e":-0.08,"f":0.05,"g":0.5},
      {"t":0.0444,"a":0.07,"b":0.08,"c":0.06,"d":-0.05,"e":0.12,"f":0.03,"g":-0.2},
      {"t":0.0452,"a":0.05,"b":-0.1,"c":-0.04,"d":0.06,"e":0.06,"f":-0.05,"g":0.3},
      {"t":0.046,"a":-0.03,"b":0.04,"c":0.05,"d":0.04,"e":-0.05,"f":0.06,"g":-0.1},
      {"t":0.0468,"a":0.04,"b":0.06,"c":0.03,"d":-0.05,"e":0.04,"f":0.05,"g":0.05},
      {"t":0.0476,"a":0.02,"b":-0.08,"c":0.02,"d":0.03,"e":0.02,"f":0.1,"g":0.02},
      {"t":0.0484,"a":0.03,"b":0.06,"c":-0.04,"d":0.02,"e":0.02,"f":1.2,"g":0.03},
      {"t":0.0492,"a":-0.02,"b":-0.08,"c":0.05,"d":0.06,"e":-0.03,"f":0.4,"g":0.05},
      {"t":0.05,"a":0.04,"b":0.04,"c":0.02,"d":-0.05,"e":0.04,"f":-0.9,"g":-0.04},
      {"t":0.0508,"a":0.02,"b":-0.05,"c":0.06,"d":0.04,"e":0.02,"f":0.4,"g":0.02},
      {"t":0.0516,"a":-0.03,"b":0.07,"c":-0.04,"d":-0.08,"e":-0.04,"f":-0.2,"g":-0.03},
      {"t":0.0524,"a":0.04,"b":0.05,"c":0.03,"d":0.15,"e":0.03,"f":0.1,"g":0.04},
      {"t":0.0532,"a":0.01,"b":-0.06,"c":-0.05,"d":0.1,"e":-0.02,"f":-0.05,"g":0.02},
      {"t":0.054,"a":-0.02,"b":0.1,"c":0.04,"d":0.05,"e":0.03,"f":0.04,"g":-0.03},
      {"t":0.0548,"a":0.03,"b":-0.04,"c":0.02,"d":-0.04,"e":0.02,"f":0.05,"g":0.01},
      {"t":0.0556,"a":0.01,"b":0.05,"c":-0.03,"d":0.03,"e":-0.02,"f":-0.03,"g":0.02},
      {"t":0.0564,"a":0.02,"b":0.05,"c":-0.05,"d":-0.04,"e":0.03,"f":0.1,"g":0.02},
      {"t":0.0572,"a":-0.01,"b":0.2,"c":0.04,"d":0.06,"e":0.05,"f":-0.3,"g":0.05},
      {"t":0.058,"a":0.02,"b":-0.1,"c":-0.03,"d":-0.1,"e":-0.06,"f":0.8,"g":0.04},
      {"t":0.0588,"a":0.03,"b":0.1,"c":0.05,"d":0.5,"e":0.1,"f":0.4,"g":-0.3},
      {"t":0.0596,"a":-0.02,"b":-0.06,"c":0.06,"d":-0.2,"e":0.05,"f":-0.6,"g":0.2},
      {"t":0.0604,"a":0.01,"b":0.04,"c":-0.04,"d":0.3,"e":0.2,"f":0.3,"g":0.05},
      {"t":0.0612,"a":0.02,"b":-0.08,"c":0.1,"d":-0.15,"e":-0.3,"f":-0.1,"g":-0.04},
      {"t":0.062,"a":0.01,"b":0.06,"c":0.05,"d":0.1,"e":0.3,"f":0.08,"g":0.03},
      {"t":0.0628,"a":-0.02,"b":0.02,"c":-0.04,"d":-0.05,"e":0.4,"f":0.05,"g":0.02},
      {"t":0.0636,"a":0.03,"b":0.05,"c":0.02,"d":0.04,"e":0.1,"f":-0.04,"g":-0.02},
      {"t":0.0644,"a":0.02,"b":-0.04,"c":0.04,"d":-0.1,"e":0.3,"f":-0.04,"g":0.02},
      {"t":0.0652,"a":0.04,"b":0.05,"c":0.03,"d":0.05,"e":0.2,"f":0.05,"g":0.04},
      {"t":0.066,"a":-0.03,"b":0.06,"c":-0.05,"d":0.08,"e":-0.1,"f":0.06,"g":-0.03},
      {"t":0.0668,"a":0.06,"b":-0.08,"c":0.02,"d":-0.04,"e":1.2,"f":1,"g":0.1},
      {"t":0.0676,"a":-0.05,"b":0.04,"c":-0.04,"d":0.03,"e":0.5,"f":0.5,"g":0.5},
      {"t":0.0684,"a":0.07,"b":0.06,"c":0.05,"d":0.05,"e":-0.4,"f":-0.5,"g":0.1},
      {"t":0.0692,"a":-0.04,"b":-0.05,"c":0.03,"d":-0.06,"e":0.3,"f":0.2,"g":-0.1},
      {"t":0.07,"a":0.08,"b":0.08,"c":-0.06,"d":0.1,"e":-0.2,"f":-0.1,"g":0.05},
      {"t":0.0708,"a":-0.06,"b":0.04,"c":0.04,"d":0.2,"e":0.1,"f":0.05,"g":-0.03},
      {"t":0.0716,"a":0.05,"b":-0.06,"c":0.02,"d":0.3,"e":0.2,"f":0.03,"g":0.02},
      {"t":0.0724,"a":-0.04,"b":-0.05,"c":0.03,"d":-0.2,"e":0.1,"f":0.03,"g":0.03},
      {"t":0.0732,"a":0.05,"b":0.04,"c":-0.04,"d":0.1,"e":-0.05,"f":-0.04,"g":-0.05},
      {"t":0.074,"a":0.02,"b":-0.06,"c":0.05,"d":-0.05,"e":0.06,"f":0.05,"g":0.08},
      {"t":0.0748,"a":-0.03,"b":0.08,"c":0.04,"d":0.04,"e":0.08,"f":0.2,"g":-0.1},
      {"t":0.0756,"a":0.04,"b":0.05,"c":-0.03,"d":-0.3,"e":-0.04,"f":0.1,"g":0.3},
      {"t":0.0764,"a":-0.02,"b":-0.04,"c":0.05,"d":0.1,"e":0.05,"f":-0.08,"g":-0.4},
      {"t":0.0772,"a":0.03,"b":-0.1,"c":0.1,"d":0.05,"e":0.03,"f":0.05,"g":1.2},
      {"t":0.078,"a":0.05,"b":0.06,"c":0.08,"d":-0.04,"e":-0.02,"f":-0.04,"g":-1},
      {"t":0.0788,"a":-0.03,"b":0.04,"c":-0.1,"d":0.03,"e":0.02,"f":0.02,"g":0.4},
      {"t":0.0796,"a":0.04,"b":0.08,"c":0.04,"d":0.05,"e":-0.03,"f":0.05,"g":0.2},
      {"t":0.0804,"a":0.02,"b":0.04,"c":0.04,"d":0.04,"e":0.02,"f":0.05,"g":0.2},
      {"t":0.0812,"a":0.03,"b":-0.06,"c":0.03,"d":0.03,"e":0.03,"f":0.03,"g":-0.1},
      {"t":0.082,"a":-0.02,"b":0.05,"c":-0.05,"d":-0.05,"e":-0.02,"f":-0.04,"g":0.05},
      {"t":0.0828,"a":0.04,"b":0.04,"c":0.02,"d":0.06,"e":0.03,"f":0.1,"g":0.04},
      {"t":0.0836,"a":-0.01,"b":-0.08,"c":-0.04,"d":-0.04,"e":-0.02,"f":0.9,"g":-0.05},
      {"t":0.0844,"a":0.02,"b":0.06,"c":0.03,"d":0.05,"e":0.01,"f":0.3,"g":0.03},
      {"t":0.0852,"a":-0.01,"b":0.03,"c":0.05,"d":0.04,"e":0.02,"f":-0.4,"g":-0.04},
      {"t":0.086,"a":0.02,"b":0.08,"c":-0.04,"d":-0.03,"e":0.03,"f":0.2,"g":0.02},
      {"t":0.0868,"a":0.01,"b":-0.05,"c":0.02,"d":-0.1,"e":-0.04,"f":-0.1,"g":0.03},
      {"t":0.0876,"a":-0.02,"b":-0.04,"c":-0.05,"d":0.05,"e":0.05,"f":0.05,"g":-0.02},
      {"t":0.0884,"a":-0.01,"b":-0.05,"c":0.03,"d":0.3,"e":-0.1,"f":0.03,"g":0.02},
      {"t":0.0892,"a":0.02,"b":0.04,"c":0.05,"d":-0.2,"e":0.15,"f":-0.04,"g":-0.03},
      {"t":0.09,"a":0.01,"b":0.06,"c":-0.02,"d":-0.3,"e":0.05,"f":0.05,"g":0.04},
      {"t":0.0908,"a":-0.02,"b":0.05,"c":0.04,"d":0.1,"e":0.2,"f":-0.03,"g":0.02},
      {"t":0.0916,"a":0.02,"b":-0.04,"c":0.03,"d":-0.05,"e":-0.15,"f":0.1,"g":-0.02},
      {"t":0.0924,"a":0.01,"b":-0.06,"c":-0.04,"d":0.04,"e":0.1,"f":1.5,"g":0.03},
      {"t":0.0932,"a":-0.02,"b":0.05,"c":0.02,"d":0.05,"e":0.05,"f":0.5,"g":0.01},
      {"t":0.094,"a":0.03,"b":0.04,"c":-0.05,"d":-0.04,"e":0.2,"f":-1,"g":-0.02},
      {"t":0.0948,"a":0.02,"b":-0.05,"c":0.04,"d":0.03,"e":0.1,"f":0.4,"g":0.03},
      {"t":0.0956,"a":0.03,"b":0.06,"c":0.03,"d":-0.05,"e":0.3,"f":-0.2,"g":0.02},
      {"t":0.0964,"a":0.02,"b":-0.06,"c":0.05,"d":0.04,"e":0.4,"f":0.05,"g":0.01},
      {"t":0.0972,"a":-0.03,"b":0.05,"c":-0.03,"d":0.06,"e":0.6,"f":-0.04,"g":0.02},
      {"t":0.098,"a":0.04,"b":-0.04,"c":0.04,"d":-0.05,"e":-0.5,"f":0.03,"g":-0.03},
      {"t":0.0988,"a":-0.02,"b":0.06,"c":-0.05,"d":0.08,"e":0.3,"f":0.05,"g":0.05},
      {"t":0.0996,"a":0.03,"b":0.04,"c":0.03,"d":0.2,"e":0.2,"f":-0.06,"g":-0.05},
      {"t":0.1004,"a":0.05,"b":-0.05,"c":0.06,"d":0.1,"e":-0.1,"f":0.5,"g":0.1},
      {"t":0.1012,"a":-0.03,"b":0.06,"c":-0.04,"d":-0.06,"e":0.6,"f":0.4,"g":0.8},
      {"t":0.102,"a":0.04,"b":0.08,"c":0.03,"d":0.04,"e":0.4,"f":-0.4,"g":0.4},
      {"t":0.1028,"a":-0.05,"b":-0.06,"c":-0.05,"d":-0.03,"e":-0.2,"f":0.2,"g":-0.3},
      {"t":0.1036,"a":-0.04,"b":0.1,"c":0.02,"d":0.05,"e":0.1,"f":-0.05,"g":0.2},
      {"t":0.1044,"a":-0.1,"b":0.2,"c":0.04,"d":0.03,"e":0.1,"f":0.03,"g":0.05},
      {"t":0.1052,"a":-0.08,"b":0.1,"c":0.03,"d":0.4,"e":0.05,"f":-0.02,"g":-0.04},
      {"t":0.106,"a":0.04,"b":-0.05,"c":-0.05,"d":0.1,"e":-0.08,"f":0.04,"g":0.03},
      {"t":0.1068,"a":0.02,"b":0.04,"c":0.1,"d":-0.1,"e":0.06,"f":-0.03,"g":0.02},
      {"t":0.1076,"a":0.05,"b":-0.06,"c":0.05,"d":0.05,"e":0.05,"f":0.05,"g":-0.02},
      {"t":0.1084,"a":0.03,"b":0.05,"c":-0.06,"d":0.04,"e":-0.04,"f":0.1,"g":0.03},
      {"t":0.1092,"a":-0.04,"b":0.04,"c":0.04,"d":-0.05,"e":0.03,"f":1.2,"g":0.02},
      {"t":0.11,"a":0.02,"b":-0.05,"c":-0.05,"d":0.03,"e":0.02,"f":0.3,"g":-0.05},
      {"t":0.1108,"a":0.03,"b":0.06,"c":0.03,"d":0.05,"e":-0.02,"f":-0.5,"g":0.4},
      {"t":0.1116,"a":0.04,"b":-0.04,"c":0.05,"d":0.02,"e":0.02,"f":0.2,"g":1.8},
      {"t":0.1124,"a":0.02,"b":0.05,"c":-0.04,"d":-0.05,"e":0.02,"f":0.1,"g":-1.5},
      {"t":0.1132,"a":-0.01,"b":0.06,"c":0.02,"d":0.06,"e":-0.03,"f":-0.05,"g":1},
      {"t":0.114,"a":0.03,"b":-0.04,"c":0.05,"d":-0.04,"e":0.02,"f":0.06,"g":-0.5},
      {"t":0.1148,"a":0.02,"b":0.05,"c":-0.03,"d":0.1,"e":0.01,"f":-0.03,"g":0.2},
      {"t":0.1156,"a":-0.03,"b":-0.06,"c":0.04,"d":0.8,"e":0.03,"f":0.04,"g":-0.1},
      {"t":0.1164,"a":0.04,"b":0.04,"c":0.03,"d":0.3,"e":-0.02,"f":-0.05,"g":0.05},
      {"t":0.1172,"a":0.02,"b":0.08,"c":-0.02,"d":-0.2,"e":0.02,"f":0.1,"g":-0.04},
      {"t":0.118,"a":-0.02,"b":-0.05,"c":0.04,"d":0.1,"e":-0.01,"f":1.3,"g":0.03},
      {"t":0.1188,"a":0.03,"b":0.06,"c":-0.05,"d":-0.05,"e":0.02,"f":0.4,"g":-0.02},
      {"t":0.1196,"a":-0.03,"b":-0.04,"c":0.03,"d":0.04,"e":-0.03,"f":-0.6,"g":0.03},
      {"t":0.1204,"a":0.02,"b":-0.04,"c":0.03,"d":0.05,"e":0.03,"f":0.3,"g":0.02},
      {"t":0.1212,"a":0.04,"b":0.05,"c":0.05,"d":0.03,"e":-0.05,"f":-0.2,"g":-0.03},
      {"t":0.122,"a":-0.03,"b":0.06,"c":-0.04,"d":0.06,"e":0.06,"f":0.1,"g":0.01},
      {"t":0.1228,"a":0.05,"b":-0.05,"c":0.03,"d":-0.3,"e":0.05,"f":-0.04,"g":0.02},
      {"t":0.1236,"a":-0.04,"b":0.04,"c":0.02,"d":-0.2,"e":0.1,"f":0.05,"g":-0.02},
      {"t":0.1244,"a":0.06,"b":-0.08,"c":0.05,"d":0.1,"e":-0.1,"f":0.04,"g":0.03},
      {"t":0.1252,"a":-0.05,"b":0.05,"c":-0.03,"d":-0.05,"e":0.2,"f":-0.05,"g":0.02},
      {"t":0.126,"a":0.07,"b":0.04,"c":0.04,"d":0.04,"e":-0.2,"f":0.2,"g":-0.02},
      {"t":0.1268,"a":0.04,"b":0.06,"c":0.06,"d":0.06,"e":0.4,"f":1.2,"g":0.03},
      {"t":0.1276,"a":0.05,"b":-0.05,"c":-0.04,"d":0.05,"e":0.3,"f":0.5,"g":0.01},
      {"t":0.1284,"a":0.06,"b":0.06,"c":-0.03,"d":0.04,"e":-0.4,"f":0.6,"g":0.02},
      {"t":0.1292,"a":-0.04,"b":-0.05,"c":0.05,"d":-0.05,"e":0.3,"f":-0.3,"g":0.03},
      {"t":0.13,"a":0.05,"b":0.04,"c":-0.04,"d":0.06,"e":0.5,"f":0.2,"g":-0.02},
      {"t":0.1308,"a":0.07,"b":-0.06,"c":0.06,"d":0.03,"e":1.5,"f":-0.1,"g":0.01},
      {"t":0.1316,"a":-0.05,"b":0.05,"c":-0.05,"d":-0.04,"e":-0.9,"f":0.05,"g":-0.03},
      {"t":0.1324,"a":0.04,"b":0.04,"c":0.04,"d":0.05,"e":-1.8,"f":-0.04,"g":0.02},
      {"t":0.1332,"a":0.06,"b":0.06,"c":0.03,"d":-0.06,"e":0.4,"f":0.03,"g":-0.03},
      {"t":0.134,"a":-0.06,"b":-0.05,"c":0.06,"d":0.1,"e":0.3,"f":-0.05,"g":0.05},
      {"t":0.1348,"a":0.05,"b":0.04,"c":-0.04,"d":0.3,"e":-0.2,"f":0.08,"g":-0.1},
      {"t":0.1356,"a":0.03,"b":0.1,"c":0.05,"d":0.2,"e":0.1,"f":0.05,"g":0.4},
      {"t":0.1364,"a":-0.04,"b":0.04,"c":-0.05,"d":-0.1,"e":0.1,"f":0.6,"g":-1},
      {"t":0.1372,"a":0.03,"b":-0.05,"c":0.04,"d":0.05,"e":-0.15,"f":-0.4,"g":1},
      {"t":0.138,"a":-0.02,"b":0.06,"c":0.06,"d":-0.04,"e":0.2,"f":0.3,"g":-1.5},
      {"t":0.1388,"a":0.04,"b":0.05,"c":-0.03,"d":0.03,"e":0.1,"f":-0.1,"g":0.8},
      {"t":0.1396,"a":0.02,"b":-0.04,"c":0.2,"d":0.05,"e":-0.05,"f":0.08,"g":-0.6},
      {"t":0.1404,"a":-0.03,"b":0.06,"c":0.05,"d":-0.04,"e":0.08,"f":-0.04,"g":0.4},
      {"t":0.1412,"a":0.02,"b":-0.08,"c":-0.05,"d":0.2,"e":-0.06,"f":0.05,"g":-0.2},
      {"t":0.142,"a":0.03,"b":0.05,"c":0.15,"d":0.1,"e":0.05,"f":0.03,"g":0.1},
      {"t":0.1428,"a":-0.02,"b":0.04,"c":0.05,"d":-0.05,"e":0.04,"f":-0.02,"g":-0.05},
      {"t":0.1436,"a":0.04,"b":0.06,"c":-0.04,"d":0.04,"e":-0.05,"f":0.04,"g":0.04},
      {"t":0.1444,"a":0.02,"b":-0.08,"c":0.04,"d":0.04,"e":0.05,"f":0.2,"g":0.03},
      {"t":0.1452,"a":0.04,"b":0.05,"c":-0.03,"d":-0.05,"e":-0.1,"f":1.2,"g":-0.05},
      {"t":0.146,"a":-0.03,"b":-0.04,"c":0.05,"d":0.06,"e":0.2,"f":0.4,"g":0.04},
      {"t":0.1468,"a":0.05,"b":0.06,"c":0.02,"d":0.05,"e":-0.3,"f":-0.5,"g":0.02},
      {"t":0.1476,"a":-0.04,"b":0.05,"c":-0.04,"d":-0.04,"e":0.4,"f":0.3,"g":-0.03},
      {"t":0.1484,"a":0.06,"b":-0.04,"c":0.03,"d":0.03,"e":-0.2,"f":-0.1,"g":0.02},
      {"t":0.1492,"a":0.04,"b":0.06,"c":0.02,"d":0.05,"e":0.1,"f":0.05,"g":0.01},
      {"t":0.15,"a":-0.03,"b":-0.05,"c":-0.03,"d":-0.06,"e":-0.05,"f":-0.04,"g":-0.02},
      {"t":0.1508,"a":0.02,"b":0.04,"c":0.04,"d":0.1,"e":0.04,"f":0.03,"g":0.03},
      {"t":0.1516,"a":0.03,"b":0.05,"c":0.02,"d":0.6,"e":-0.02,"f":0.05,"g":0.01},
      {"t":0.1524,"a":0.02,"b":0.04,"c":-0.03,"d":0.2,"e":0.02,"f":-0.04,"g":0.02},
      {"t":0.1532,"a":0.03,"b":0.05,"c":0.04,"d":-0.3,"e":0.03,"f":0.05,"g":-0.03},
      {"t":0.154,"a":-0.02,"b":-0.04,"c":0.02,"d":0.1,"e":-0.02,"f":1.1,"g":0.04},
      {"t":0.1548,"a":0.03,"b":0.06,"c":-0.03,"d":-0.05,"e":0.05,"f":0.4,"g":0.3},
      {"t":0.1556,"a":-0.01,"b":0.05,"c":0.04,"d":0.04,"e":0.6,"f":-0.4,"g":0.2},
      {"t":0.1564,"a":0.02,"b":-0.04,"c":0.02,"d":0.05,"e":0.2,"f":0.2,"g":0.1},
      {"t":0.1572,"a":0.03,"b":-0.06,"c":0.03,"d":-0.04,"e":-0.2,"f":-0.1,"g":0.2},
      {"t":0.158,"a":0.02,"b":0.05,"c":-0.02,"d":0.06,"e":0.1,"f":0.05,"g":-0.05},
      {"t":0.1588,"a":-0.01,"b":0.04,"c":0.03,"d":0.03,"e":0.05,"f":0.1,"g":0.02},
      {"t":0.1596,"a":0.02,"b":0.06,"c":0.04,"d":-0.02,"e":0.04,"f":0.05,"g":0.01}
    ]
  },
  "spacing": 17,
  "hconcat": [
    {
      "bounds": "flush",
      "spacing": 219,
      "vconcat": [
        {
          "width": 1039, "height": 330,
          "title": {"text": "(a) Norm", "offset": -29},
          "layer": [
            {
              "mark": {"type": "line", "color": "black", "strokeWidth": 1.2},
              "encoding": {
                "x": {"field": "t", "type": "quantitative", "scale": {"domain": [0, 0.16], "nice": false, "zero": false}, "axis": {"values": [0, 0.05, 0.1, 0.15], "format": "~g", "title": "Time 𝑡/s", "titleY": 119}},
                "y": {"field": "a", "type": "quantitative", "scale": {"domain": [-0.5, 0.5], "nice": false}, "axis": {"values": [-0.5, 0, 0.5], "format": "~g", "title": ["Acceleration", "𝑎/(ms⁻²)"], "titleX": -227, "titleY": 155}}
              }
            },
            {
              "mark": {"type": "line", "opacity": 0},
              "encoding": {
                "x": {"field": "t", "type": "quantitative", "scale": {"domain": [0, 0.16], "nice": false, "zero": false}, "axis": {"orient": "top", "values": [0.05, 0.1, 0.15], "labels": false, "title": null}},
                "y": {"field": "a", "type": "quantitative", "scale": {"domain": [-0.5, 0.5], "nice": false}, "axis": {"orient": "right", "values": [-0.5, 0, 0.5], "labels": false, "title": null}}
              }
            }
          ],
          "resolve": {"axis": {"x": "independent", "y": "independent"}}
        },
        {
          "width": 1039, "height": 298,
          "title": {"text": "(c) BEII", "offset": -12},
          "layer": [
            {
              "mark": {"type": "line", "color": "black", "strokeWidth": 1.2},
              "encoding": {
                "x": {"field": "t", "type": "quantitative", "scale": {"domain": [0, 0.16], "nice": false, "zero": false}, "axis": {"values": [0, 0.05, 0.1, 0.15], "format": "~g", "title": "Time 𝑡/s", "titleY": 127}},
                "y": {"field": "c", "type": "quantitative", "scale": {"domain": [-0.5, 0.5], "nice": false}, "axis": {"values": [-0.5, 0, 0.5], "format": "~g", "title": ["Acceleration", "𝑎/(ms⁻²)"], "titleX": -227, "titleY": 139}}
              }
            },
            {
              "mark": {"type": "line", "opacity": 0},
              "encoding": {
                "x": {"field": "t", "type": "quantitative", "scale": {"domain": [0, 0.16], "nice": false, "zero": false}, "axis": {"orient": "top", "values": [0.05, 0.1, 0.15], "labels": false, "title": null}},
                "y": {"field": "c", "type": "quantitative", "scale": {"domain": [-0.5, 0.5], "nice": false}, "axis": {"orient": "right", "values": [-0.5, 0, 0.5], "labels": false, "title": null}}
              }
            }
          ],
          "resolve": {"axis": {"x": "independent", "y": "independent"}}
        },
        {
          "width": 1039, "height": 309,
          "title": {"text": "(e) IRII", "offset": -15},
          "layer": [
            {
              "mark": {"type": "line", "color": "black", "strokeWidth": 1.2},
              "encoding": {
                "x": {"field": "t", "type": "quantitative", "scale": {"domain": [0, 0.16], "nice": false, "zero": false}, "axis": {"values": [0, 0.05, 0.1, 0.15], "format": "~g", "title": "Time 𝑡/s", "titleY": 130}},
                "y": {"field": "e", "type": "quantitative", "scale": {"domain": [-5, 5], "nice": false}, "axis": {"values": [-5, 0, 5], "format": "~g", "title": ["Acceleration", "𝑎/(ms⁻²)"], "titleX": -227, "titleY": 144}}
              }
            },
            {
              "mark": {"type": "line", "opacity": 0},
              "encoding": {
                "x": {"field": "t", "type": "quantitative", "scale": {"domain": [0, 0.16], "nice": false, "zero": false}, "axis": {"orient": "top", "values": [0.05, 0.1, 0.15], "labels": false, "title": null}},
                "y": {"field": "e", "type": "quantitative", "scale": {"domain": [-5, 5], "nice": false}, "axis": {"orient": "right", "values": [-5, 0, 5], "labels": false, "title": null}}
              }
            }
          ],
          "resolve": {"axis": {"x": "independent", "y": "independent"}}
        },
        {
          "width": 1039, "height": 304,
          "title": {"text": "(g) ORII", "offset": -22},
          "layer": [
            {
              "mark": {"type": "line", "color": "black", "strokeWidth": 1.2},
              "encoding": {
                "x": {"field": "t", "type": "quantitative", "scale": {"domain": [0, 0.16], "nice": false, "zero": false}, "axis": {"values": [0, 0.05, 0.1, 0.15], "format": "~g", "title": "Time 𝑡/s", "titleY": 131}},
                "y": {"field": "g", "type": "quantitative", "scale": {"domain": [-5, 5], "nice": false}, "axis": {"values": [-5, 0, 5], "format": "~g", "title": ["Acceleration", "𝑎/(ms⁻²)"], "titleX": -227, "titleY": 142}}
              }
            },
            {
              "mark": {"type": "line", "opacity": 0},
              "encoding": {
                "x": {"field": "t", "type": "quantitative", "scale": {"domain": [0, 0.16], "nice": false, "zero": false}, "axis": {"orient": "top", "values": [0.05, 0.1, 0.15], "labels": false, "title": null}},
                "y": {"field": "g", "type": "quantitative", "scale": {"domain": [-5, 5], "nice": false}, "axis": {"orient": "right", "values": [-5, 0, 5], "labels": false, "title": null}}
              }
            }
          ],
          "resolve": {"axis": {"x": "independent", "y": "independent"}}
        }
      ]
    },
    {
      "bounds": "flush",
      "spacing": 0,
      "vconcat": [
        {
          "width": 1034, "height": 15,
          "view": {"stroke": null},
          "mark": {"type": "rule", "opacity": 0},
          "encoding": {}
        },
        {
          "bounds": "flush",
          "spacing": 210,
          "vconcat": [
            {
              "width": 1034, "height": 340,
              "title": {"text": "(b) BEI", "offset": -30},
              "layer": [
                {
                  "mark": {"type": "line", "color": "black", "strokeWidth": 1.2},
                  "encoding": {
                    "x": {"field": "t", "type": "quantitative", "scale": {"domain": [0, 0.16], "nice": false, "zero": false}, "axis": {"values": [0, 0.05, 0.1, 0.15], "format": "~g", "title": "Time 𝑡/s", "titleY": 116}},
                    "y": {"field": "b", "type": "quantitative", "scale": {"domain": [-0.5, 0.5], "nice": false}, "axis": {"values": [-0.5, 0, 0.5], "format": "~g", "title": ["Acceleration", "𝑎/(ms⁻²)"], "titleX": -227, "titleY": 160}}
                  }
                },
                {
                  "mark": {"type": "line", "opacity": 0},
                  "encoding": {
                    "x": {"field": "t", "type": "quantitative", "scale": {"domain": [0, 0.16], "nice": false, "zero": false}, "axis": {"orient": "top", "values": [0.05, 0.1, 0.15], "labels": false, "title": null}},
                    "y": {"field": "b", "type": "quantitative", "scale": {"domain": [-0.5, 0.5], "nice": false}, "axis": {"orient": "right", "values": [-0.5, 0, 0.5], "labels": false, "title": null}}
                  }
                }
              ],
              "resolve": {"axis": {"x": "independent", "y": "independent"}}
            },
            {
              "width": 1034, "height": 302,
              "title": {"text": "(d) IRI", "offset": -12},
              "layer": [
                {
                  "mark": {"type": "line", "color": "black", "strokeWidth": 1.2},
                  "encoding": {
                    "x": {"field": "t", "type": "quantitative", "scale": {"domain": [0, 0.16], "nice": false, "zero": false}, "axis": {"values": [0, 0.05, 0.1, 0.15], "format": "~g", "title": "Time 𝑡/s", "titleY": 127}},
                    "y": {"field": "d", "type": "quantitative", "scale": {"domain": [-2, 2], "nice": false}, "axis": {"values": [-2, 0, 2], "format": "~g", "title": ["Acceleration", "𝑎/(ms⁻²)"], "titleX": -227, "titleY": 141}}
                  }
                },
                {
                  "mark": {"type": "line", "opacity": 0},
                  "encoding": {
                    "x": {"field": "t", "type": "quantitative", "scale": {"domain": [0, 0.16], "nice": false, "zero": false}, "axis": {"orient": "top", "values": [0.05, 0.1, 0.15], "labels": false, "title": null}},
                    "y": {"field": "d", "type": "quantitative", "scale": {"domain": [-2, 2], "nice": false}, "axis": {"orient": "right", "values": [-2, 0, 2], "labels": false, "title": null}}
                  }
                }
              ],
              "resolve": {"axis": {"x": "independent", "y": "independent"}}
            },
            {
              "width": 1034, "height": 307,
              "title": {"text": "(f) ORI", "offset": -24},
              "layer": [
                {
                  "mark": {"type": "line", "color": "black", "strokeWidth": 1.2},
                  "encoding": {
                    "x": {"field": "t", "type": "quantitative", "scale": {"domain": [0, 0.16], "nice": false, "zero": false}, "axis": {"values": [0, 0.05, 0.1, 0.15], "format": "~g", "title": "Time 𝑡/s", "titleY": 130}},
                    "y": {"field": "f", "type": "quantitative", "scale": {"domain": [-5, 5], "nice": false}, "axis": {"values": [-5, 0, 5], "format": "~g", "title": ["Acceleration", "𝑎/(ms⁻²)"], "titleX": -227, "titleY": 143}}
                  }
                },
                {
                  "mark": {"type": "line", "opacity": 0},
                  "encoding": {
                    "x": {"field": "t", "type": "quantitative", "scale": {"domain": [0, 0.16], "nice": false, "zero": false}, "axis": {"orient": "top", "values": [0.05, 0.1, 0.15], "labels": false, "title": null}},
                    "y": {"field": "f", "type": "quantitative", "scale": {"domain": [-5, 5], "nice": false}, "axis": {"orient": "right", "values": [-5, 0, 5], "labels": false, "title": null}}
                  }
                }
              ],
              "resolve": {"axis": {"x": "independent", "y": "independent"}}
            }
          ]
        }
      ]
    }
  ],
  "config": {
    "font": "Liberation Serif",
    "view": {"stroke": "black", "strokeWidth": 1.5},
    "axis": {
      "domain": false,
      "grid": false,
      "ticks": true,
      "tickSize": -10,
      "tickWidth": 1.5,
      "tickColor": "black",
      "labelFont": "Liberation Serif",
      "labelFontSize": 62,
      "labelColor": "black",
      "labelFlush": false,
      "labelOverlap": false,
      "labelExpr": "replace(datum.label, '−', '-')",
      "titleFont": "Liberation Serif",
      "titleFontSize": 62,
      "titleFontWeight": "normal",
      "titleColor": "black",
      "titleLimit": 2000
    },
    "axisX": {"labelBaseline": "alphabetic", "labelPadding": 77, "titleBaseline": "alphabetic"},
    "axisY": {"labelPadding": 35, "titleBaseline": "bottom", "titleLineHeight": 110, "titleAngle": 270},
    "title": {"font": "Liberation Serif", "fontSize": 62, "fontWeight": "normal", "color": "black", "baseline": "alphabetic", "anchor": "middle", "frame": "group"}
  }
}
